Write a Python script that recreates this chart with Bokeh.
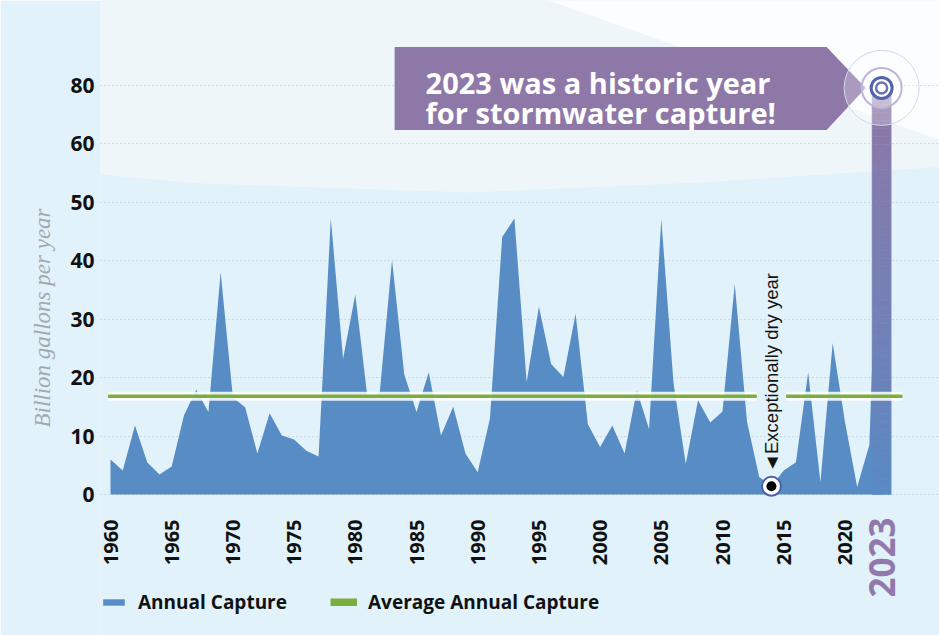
import numpy as np
from bokeh.plotting import figure
from bokeh.models import Range1d, FixedTicker, Label, Legend, LegendItem
from bokeh.core.properties import value
from bokeh.embed import file_html
from bokeh.resources import INLINE

# ---------------- data ----------------
years = list(range(1960, 2024))
capture = [6.0, 4.1, 11.8, 5.5, 3.4, 4.8, 13.5, 17.9, 14.1, 38.0,
           16.6, 14.9, 7.0, 13.9, 10.1, 9.4, 7.5, 6.5, 47.2, 23.2,
           34.2, 16.5, 17.5, 40.1, 20.5, 14.1, 20.9, 10.1, 15.0, 7.0,
           3.8, 13.0, 44.0, 47.2, 19.2, 32.1, 22.3, 20.1, 30.9, 12.0,
           8.1, 11.8, 7.0, 17.8, 11.2, 47.1, 19.0, 5.2, 16.1, 12.3,
           14.2, 36.0, 12.5, 3.0, 1.4, 4.1, 5.5, 20.9, 2.1, 25.9,
           12.5, 1.3, 8.5, 79.0]
average_capture = 16.8
y_tick_values = [0, 10, 20, 30, 40, 50, 60, 80]
x_tick_values = [1960, 1965, 1970, 1975, 1980, 1985, 1990, 1995, 2000, 2005, 2010, 2015, 2020]
x_tick_labels = [str(v) for v in x_tick_values]
highlight_year = 2023
dry_year = 2014
callout_lines = ["2023 was a historic year", "for stormwater capture!"]
y_axis_title = "Billion gallons per year"
dry_label = "\u25C4Exceptionally dry year"
legend_labels = ["Annual Capture", "Average Annual Capture"]

# ---------------- broken y scale (60 -> 80 compressed) ----------------
BREAK = 60
def tr(v):
    return v if v <= BREAK else BREAK + (v - BREAK) / 2.0

cap_t = [tr(v) for v in capture]

# ---------------- geometry ----------------
W, H = 939, 635
FL = 100
fw, fh = W - FL, H
PX_YR = 12.24
PX_UNIT = 5.85
x0 = 1960 - (110 - FL) / PX_YR
x1 = x0 + fw / PX_YR
y1 = 494 / PX_UNIT
y0 = y1 - fh / PX_UNIT

def rx(px):  # page pixel -> data x (decoration placement only)
    return 1960 + (px - 110) / PX_YR

def ry(py):
    return (494 - py) / PX_UNIT

BLUE = "#588CC5"
PURPLE = "#8E78A8"
GREEN = "#7BAE3C"
BG = "#E1F2FA"
FONT = "Open Sans"

p = figure(width=W, height=H, output_backend="svg", toolbar_location=None,
           x_range=Range1d(x0, x1), y_range=Range1d(y0, y1),
           min_border_left=FL, min_border_bottom=0, min_border_top=0, min_border_right=0)
p.background_fill_color = BG
p.border_fill_color = BG
p.outline_line_color = None

# background wave shapes
wx = [rx(v) for v in [0, 960, 960, 700, 470, 200, 0]]
wy = [ry(v) for v in [-10, -10, 165, 182, 192, 183, 165]]
bg1 = p.patch(wx, wy, fill_color="#EFF6FA", line_color=None)
bg1.level = "image"
wx2 = [rx(v) for v in [520, 960, 960, 760]]
wy2 = [ry(v) for v in [-10, -10, 147, 75]]
bg2 = p.patch(wx2, wy2, fill_color="#FBFDFE", line_color=None)
bg2.level = "image"

# axes
p.xaxis.visible = False
p.yaxis.ticker = FixedTicker(ticks=[tr(v) for v in y_tick_values])
p.yaxis.major_label_overrides = {tr(v): str(v) for v in y_tick_values if tr(v) != v}
p.yaxis.major_label_standoff = 0
p.yaxis.axis_line_color = None
p.yaxis.major_tick_line_color = None
p.yaxis.minor_tick_line_color = None
p.yaxis.major_label_text_font = FONT
p.yaxis.major_label_text_font_style = "bold"
p.yaxis.major_label_text_font_size = "21px"
p.yaxis.major_label_text_color = "#111111"
p.yaxis.axis_label = y_axis_title
p.yaxis.axis_label_text_font = "Liberation Serif"
p.yaxis.axis_label_text_font_style = "italic"
p.yaxis.axis_label_text_font_size = "23px"
p.yaxis.axis_label_text_color = "#A3A8AD"
p.yaxis.axis_label_standoff = 12
p.xgrid.visible = False
p.ygrid.ticker = FixedTicker(ticks=[tr(v) for v in y_tick_values])
p.ygrid.grid_line_color = "#B4BEC6"
p.ygrid.grid_line_dash = "1 3"
p.ygrid.grid_line_width = 1

# x tick labels (drawn inside the extended frame)
p.text(x=x_tick_values, y=[ry(519)] * len(x_tick_values), text=x_tick_labels, angle=np.pi / 2,
       text_align="right", text_baseline="middle", text_font=value(FONT),
       text_font_style="bold", text_font_size="20px", text_color="#111111")
p.text(x=[highlight_year], y=[ry(517)], text=[str(highlight_year)], angle=np.pi / 2,
       text_align="right", text_baseline="middle", text_font=value(FONT),
       text_font_style="bold", text_font_size="35px", text_color="#9279AC")

# area
area = p.varea(x=years, y1=0, y2=cap_t, fill_color=BLUE)

# 2023 band with gradient
top23 = cap_t[-1]
n = 50
lev = np.linspace(0, top23, n + 1)
c0 = np.array([0x5A, 0x8A, 0xC4])
c1 = np.array([0x8E, 0x78, 0xA8])
cols = ["#%02x%02x%02x" % tuple((c0 + (c1 - c0) * t).astype(int)) for t in np.linspace(0, 1, n) ** 0.9]
p.quad(left=highlight_year - 0.775, right=highlight_year + 0.775, bottom=lev[:-1], top=lev[1:],
       fill_color=cols, line_color=cols, line_width=0.6)

# average line (with gap for annotation)
gap = 1.2
seg_x = [[1960 - 0.2, dry_year - gap], [dry_year + gap, highlight_year + 1.7]]
for sx in seg_x:
    p.line(sx, [average_capture] * 2, line_color="white", line_width=9, line_alpha=0.85)
    p.line(sx, [average_capture] * 2, line_color=GREEN, line_width=3.5)
# single-point line: draws nothing in the plot, gives the legend a thick green swatch
green_sw = p.line([dry_year], [average_capture], line_color=GREEN, line_width=8)

# dry year marker
dry_v = cap_t[years.index(dry_year)]
p.scatter([dry_year], [dry_v], size=19, fill_color="white", line_color="#4E5EA6", line_width=2)
p.scatter([dry_year], [dry_v], size=10, fill_color="black", line_color=None)
p.add_layout(Label(x=dry_year, y=dry_v + 14 / PX_UNIT, text=dry_label, angle=np.pi / 2,
                   text_align="left", text_baseline="middle", text_font="Liberation Sans",
                   text_font_size="18.5px", text_color="#111111"))

# callout arrow box
ax_, ay_ = highlight_year, top23
cx = [ax_ - 487 / PX_YR, ax_ - 55 / PX_YR, ax_ - 16 / PX_YR, ax_ - 55 / PX_YR, ax_ - 487 / PX_YR]
cy = [ay_ + 41 / PX_UNIT, ay_ + 41 / PX_UNIT, ay_, ay_ - 42 / PX_UNIT, ay_ - 42 / PX_UNIT]
p.patch(cx, cy, fill_color=PURPLE, line_color=None)
for i, line in enumerate(callout_lines):
    p.add_layout(Label(x=ax_ - 456 / PX_YR, y=ay_ + (5 - 30 * i) / PX_UNIT, text=line,
                       text_align="left", text_baseline="alphabetic", text_font=FONT,
                       text_font_style="bold", text_font_size="29px", text_color="white"))

# target rings at 2023
p.scatter([ax_], [ay_], size=75, fill_color="white", fill_alpha=0.25, line_color="#D3D6E6", line_width=1)
p.scatter([ax_], [ay_], size=40, fill_color="white", fill_alpha=0.35, line_color="#BDB5DA", line_width=2)
p.scatter([ax_], [ay_], size=21, fill_color="white", line_color="#5363AB", line_width=3)
p.scatter([ax_], [ay_], size=11, fill_color="white", line_color="#6C70B4", line_width=2.5)

# legend (inside the extended frame, at the bottom)
leg = Legend(items=[LegendItem(label=legend_labels[0], renderers=[area]),
                    LegendItem(label=legend_labels[1], renderers=[green_sw])],
             orientation="horizontal", location=(0, 20))
leg.label_text_font = FONT
leg.label_text_font_style = "bold"
leg.label_text_font_size = "19px"
leg.label_text_color = "#111111"
leg.glyph_width = 27
leg.glyph_height = 8
leg.label_standoff = 11
leg.spacing = 43
leg.padding = 0
leg.margin = 0
leg.background_fill_alpha = 0
leg.border_line_color = None
p.add_layout(leg)

open("out.html", "w").write(file_html(p, INLINE))
